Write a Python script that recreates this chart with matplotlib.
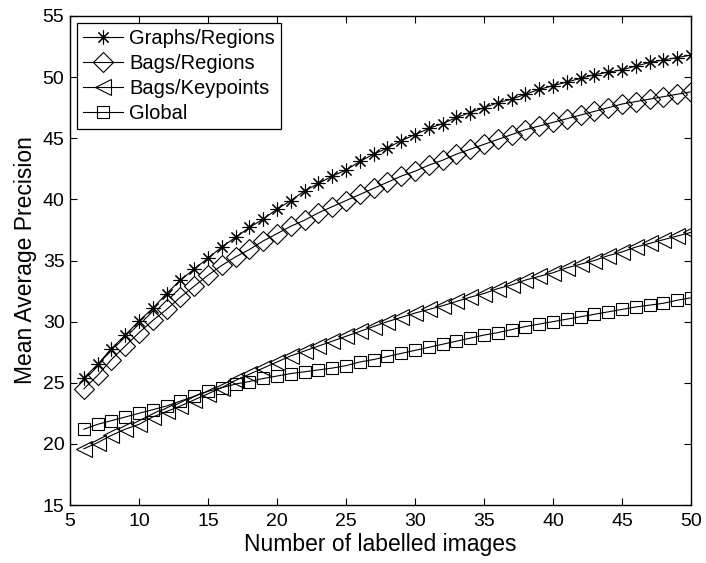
import matplotlib.pyplot as plt
import numpy as np

plt.rcParams['font.family'] = ['Liberation Sans', 'DejaVu Sans']

# number of labelled images
n_images = np.arange(6, 51)

graphs_regions = [25.4, 26.5, 27.8, 28.9, 30.05, 31.1, 32.3, 33.4, 34.3, 35.2,
                  36.1, 36.9, 37.7, 38.4, 39.2, 39.9, 40.7, 41.3, 41.9, 42.4,
                  43.1, 43.7, 44.2, 44.8, 45.3, 45.8, 46.2, 46.7, 47.1, 47.5,
                  47.9, 48.2, 48.6, 49.0, 49.3, 49.6, 49.9, 50.2, 50.4, 50.6,
                  50.9, 51.2, 51.4, 51.6, 51.8]
bags_regions = [24.5, 25.6, 26.9, 28.0, 29.1, 30.1, 31.0, 32.0, 32.9, 33.8,
                34.6, 35.3, 35.9, 36.6, 37.2, 37.8, 38.3, 38.9, 39.4, 39.9,
                40.4, 40.9, 41.4, 41.9, 42.3, 42.8, 43.2, 43.7, 44.1, 44.5,
                44.9, 45.3, 45.7, 46.0, 46.3, 46.6, 46.9, 47.2, 47.5, 47.8,
                48.0, 48.2, 48.4, 48.6, 48.8]
bags_keypoints = [19.6, 20.1, 20.7, 21.2, 21.6, 22.2, 22.65, 23.1, 23.6, 24.1,
                  24.6, 25.2, 25.7, 26.2, 26.7, 27.2, 27.6, 28.0, 28.4, 28.8,
                  29.2, 29.6, 30.0, 30.35, 30.7, 31.0, 31.3, 31.65, 32.0, 32.3,
                  32.7, 33.0, 33.4, 33.7, 34.0, 34.4, 34.7, 35.0, 35.4, 35.7,
                  36.1, 36.4, 36.7, 37.0, 37.3]
global_feat = [21.2, 21.6, 21.9, 22.2, 22.5, 22.8, 23.1, 23.5, 23.9, 24.3,
               24.6, 24.9, 25.1, 25.35, 25.55, 25.75, 25.9, 26.05, 26.2, 26.4,
               26.7, 26.9, 27.15, 27.4, 27.65, 27.9, 28.15, 28.4, 28.65, 28.9,
               29.1, 29.35, 29.6, 29.8, 30.0, 30.2, 30.4, 30.6, 30.8, 31.0,
               31.2, 31.35, 31.5, 31.75, 31.95]

fig = plt.figure(figsize=(7.06, 5.63), dpi=100)
ax = fig.add_axes([0.0992, 0.103, 0.8796, 0.8686])

lw = 0.8
ax.plot(n_images, graphs_regions, color='black', lw=lw, marker=(8, 2, 0),
        markersize=10, markeredgewidth=0.8, label='Graphs/Regions')
ax.plot(n_images, bags_regions, color='black', lw=lw, marker='D',
        markersize=10, markerfacecolor='none', markeredgewidth=0.8,
        label='Bags/Regions')
ax.plot(n_images, bags_keypoints, color='black', lw=lw, marker='<',
        markersize=11.5, markerfacecolor='none', markeredgewidth=0.8,
        label='Bags/Keypoints')
ax.plot(n_images, global_feat, color='black', lw=lw, marker='s',
        markersize=8.5, markerfacecolor='none', markeredgewidth=0.8,
        label='Global')

ax.set_xlim(5, 50)
ax.set_ylim(15, 55)
ax.set_xticks(np.arange(5, 51, 5))
ax.set_yticks(np.arange(15, 56, 5))
ax.tick_params(direction='in', top=True, right=True, length=5, width=0.8,
               labelsize=14)
ax.tick_params(axis='x', pad=6)
ax.tick_params(axis='y', pad=4)
for s in ax.spines.values():
    s.set_linewidth(1.0)

ax.set_xlabel('Number of labelled images', fontsize=16.5, labelpad=2)
ax.set_ylabel('Mean Average Precision', fontsize=16.5, labelpad=4)

leg = ax.legend(loc='upper left', fontsize=14.5, handlelength=2.0,
                handletextpad=0.3, borderaxespad=0.35, borderpad=0.3,
                labelspacing=0.3, fancybox=False, edgecolor='black',
                framealpha=1)
leg.get_frame().set_linewidth(0.9)

fig.savefig('out.png', dpi=100)
